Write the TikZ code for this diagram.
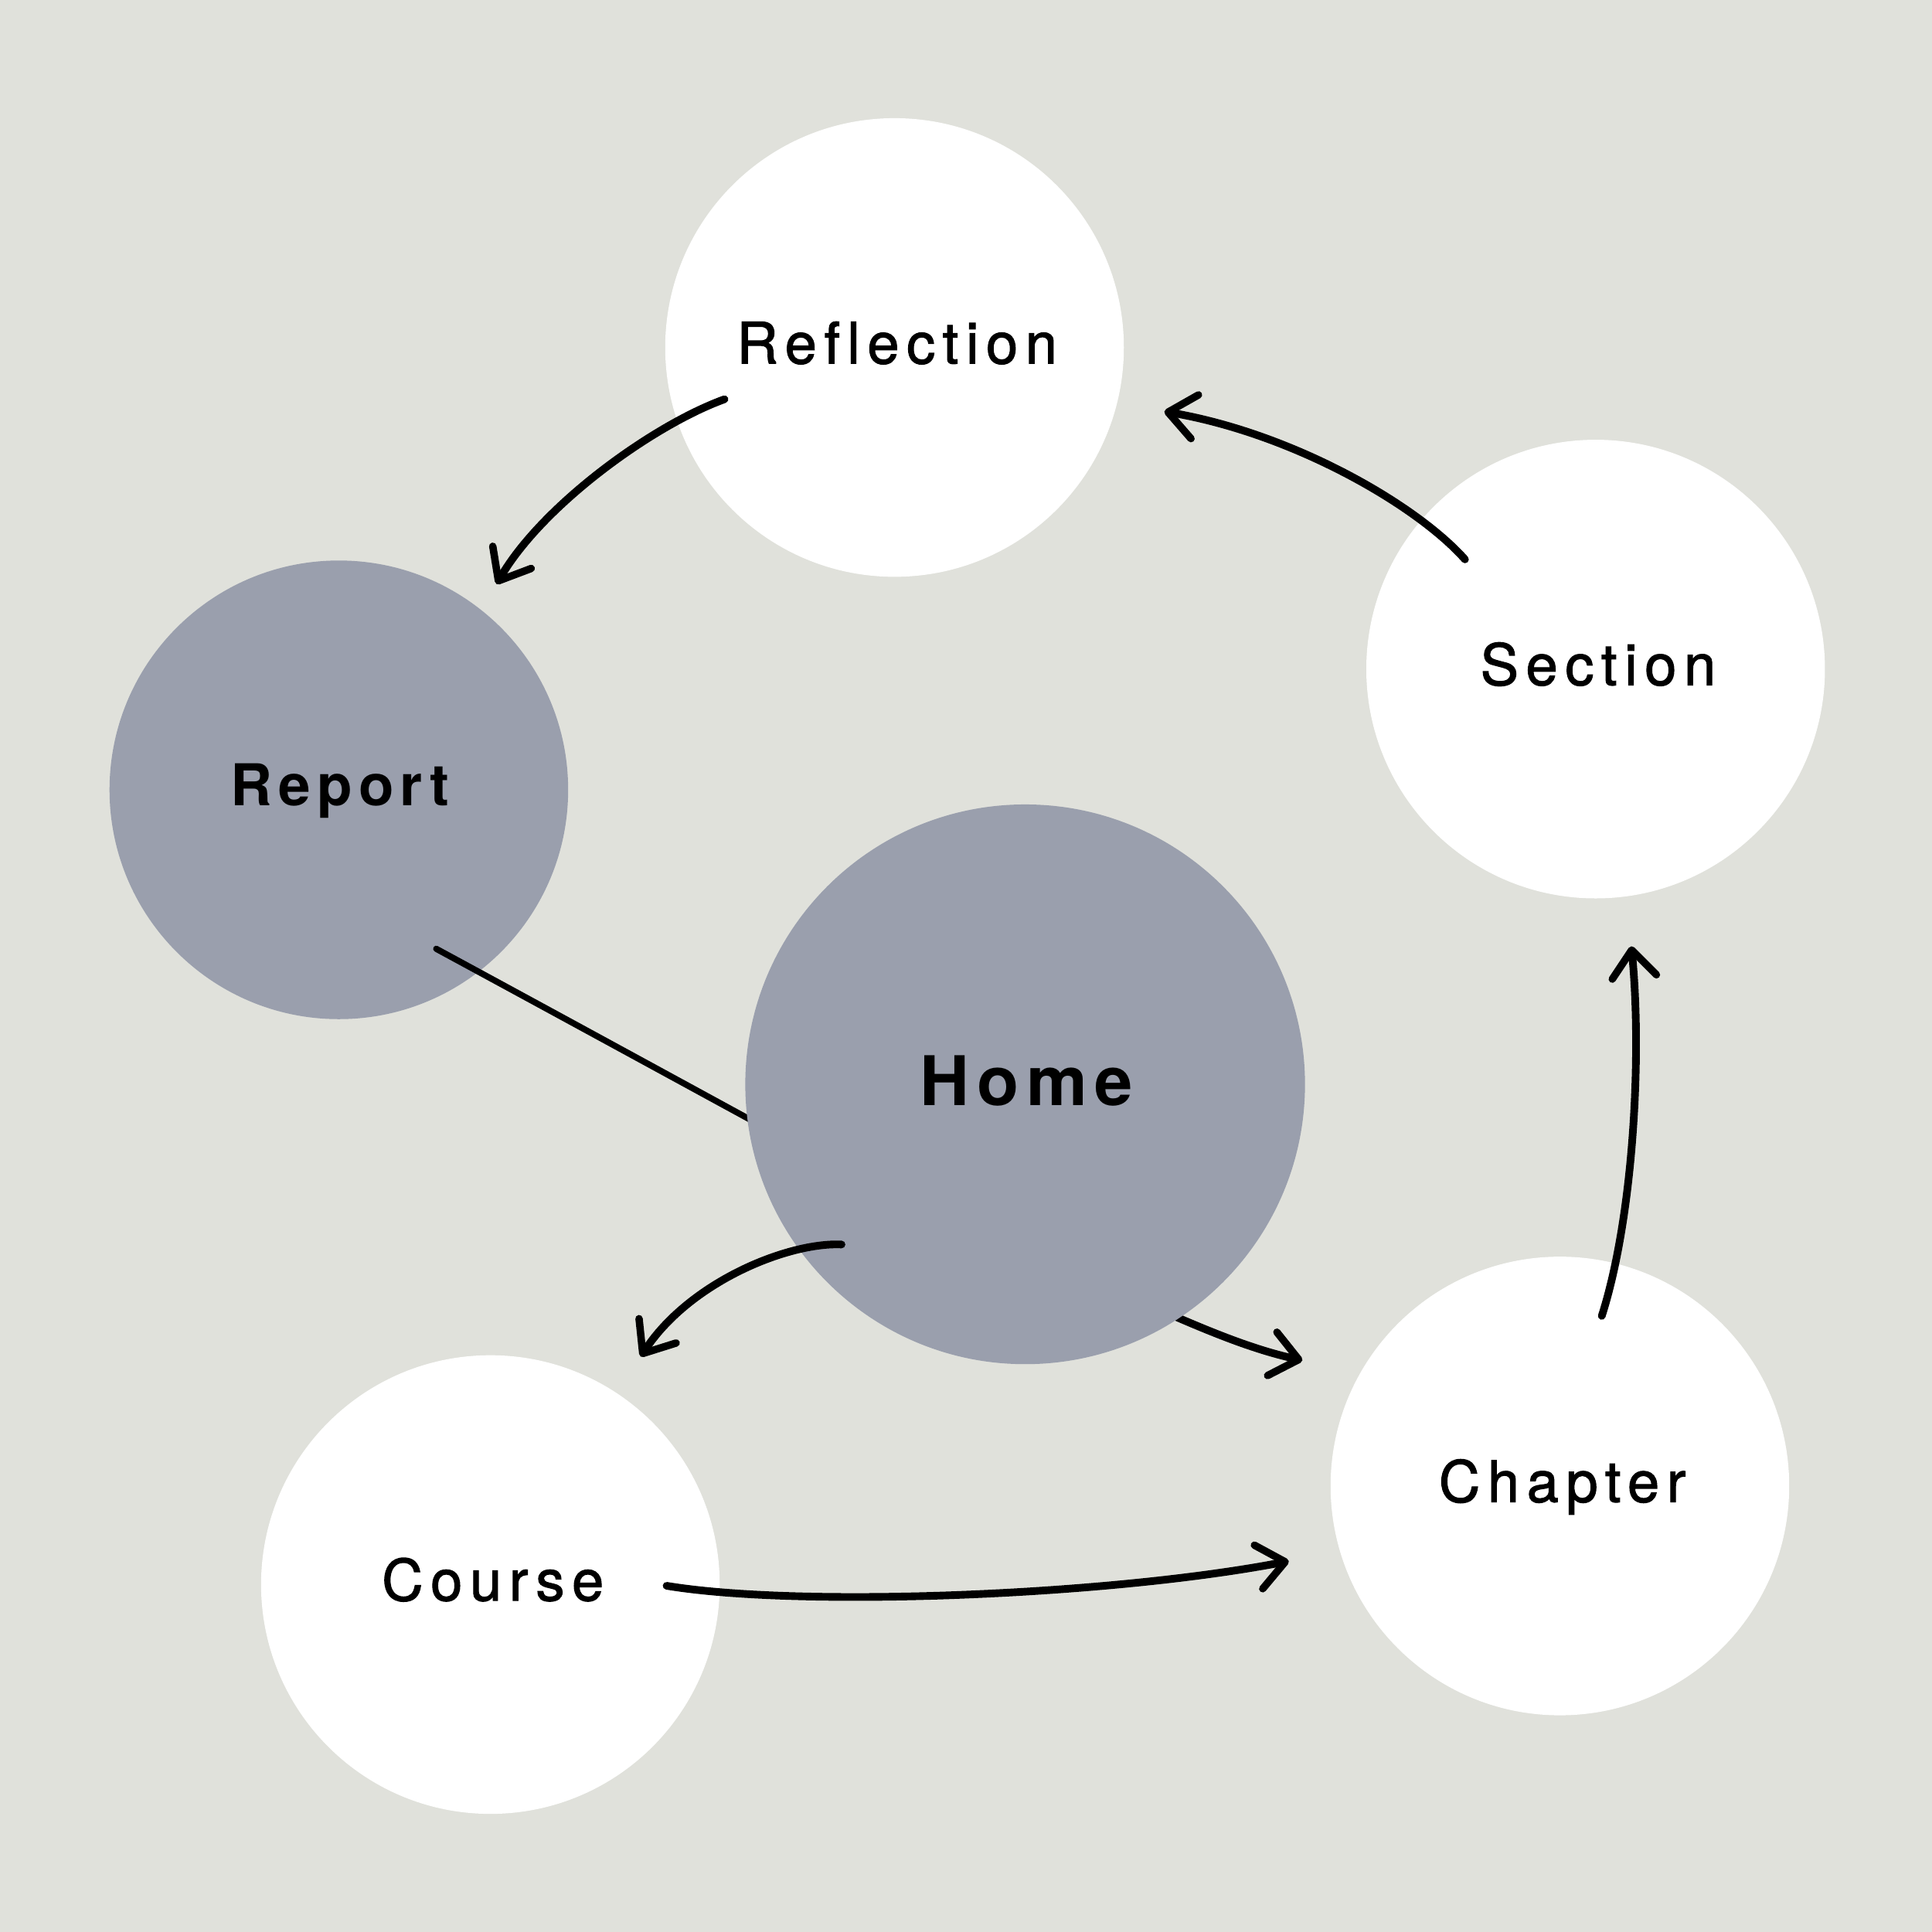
\documentclass[tikz,border=0pt]{standalone}
\usepackage{fontspec}
\setmainfont{TeX Gyre Heros}
\newfontfamily\lblfont[LetterSpace=13, Ligatures=NoCommon, FakeBold=1.6]{TeX Gyre Heros}
\newfontfamily\lblbfont[LetterSpace=11, Ligatures=NoCommon]{TeX Gyre Heros}
\usetikzlibrary{arrows.meta}
\definecolor{bgc}{RGB}{224,225,219}
\definecolor{hubc}{RGB}{154,159,173}
\begin{document}
\begin{tikzpicture}[x=0.01cm,y=-0.01cm,
  bubble/.style={circle, inner sep=0pt, minimum size=3.72cm, fill=white, draw=none},
  hub/.style={bubble, fill=hubc},
  bighub/.style={hub, minimum size=4.54cm},
  lbl/.style={anchor=base, inner sep=0pt, font=\lblfont\fontsize{13.2pt}{16pt}\selectfont},
  lblb/.style={anchor=base, inner sep=0pt, font=\lblbfont\bfseries\fontsize{13.3pt}{16pt}\selectfont},
  lblh/.style={anchor=base, inner sep=0pt, font=\lblbfont\bfseries\fontsize{15.8pt}{18pt}\selectfont},
  conn/.style={line width=0.062cm, line cap=round, line join=round,
    -{Straight Barb[round, length=0.22cm, width=0.36cm, line width=0.06cm]}},
  plainconn/.style={line width=0.05cm, line cap=round},
]
\fill[bgc] (0,0) rectangle (1568,1568);
\useasboundingbox (0,0) rectangle (1568,1568);

% circle behind the connectors
\node[hub] (report) at (275,641) {};

% connectors partly hidden behind Home
\coordinate (rl-s) at (354,770);
\coordinate (rl-e) at (670,942);
\draw[plainconn] (rl-s) .. controls (450,822) and (560,882) .. (rl-e);

\coordinate (a6s) at (930,1058);
\coordinate (a6e) at (1057,1104);
\draw[conn] (a6s) .. controls (975,1078) and (1015,1095) .. (a6e);

\node[bighub] (home) at (832,880) {};
\node[bubble] (refl) at (726,282) {};
\node[bubble] (sect) at (1295,543) {};
\node[bubble] (course) at (398,1286) {};
\node[bubble] (chap) at (1266,1206) {};

% labels
\node[lbl] (refl-t) at (728,295) {Reflection};
\node[lbl] (sect-t) at (1297,556) {Section};
\node[lblb] (report-t) at (276,654) {Report};
\node[lblh] (home-t) at (833,897) {Home};
\node[lbl] (course-t) at (400,1299) {Course};
\node[lbl] (chap-t) at (1268,1219) {Chapter};

% Reflection -> Report
\coordinate (a1s) at (588,324);
\coordinate (a1e) at (403,474);
\draw[conn] (a1s) .. controls (530,345) and (440,410) .. (a1e);

% Section -> Reflection
\coordinate (a2s) at (1189,454);
\coordinate (a2e) at (945,334);
\draw[conn] (a2s) .. controls (1150,410) and (1050,352) .. (a2e);

% Chapter -> Section
\coordinate (a3s) at (1300,1068);
\coordinate (a3e) at (1324,768);
\draw[conn] (a3s) .. controls (1325,990) and (1333,860) .. (a3e);

% Course -> Chapter
\coordinate (a4s) at (541,1287);
\coordinate (a4e) at (1046,1267);
\draw[conn] (a4s) .. controls (650,1305) and (900,1295) .. (a4e);

% Home -> Course
\coordinate (a5s) at (683,1010);
\coordinate (a5e) at (520,1101);
\draw[conn] (a5s) .. controls (640,1008) and (560,1040) .. (a5e);
\end{tikzpicture}
\end{document}
